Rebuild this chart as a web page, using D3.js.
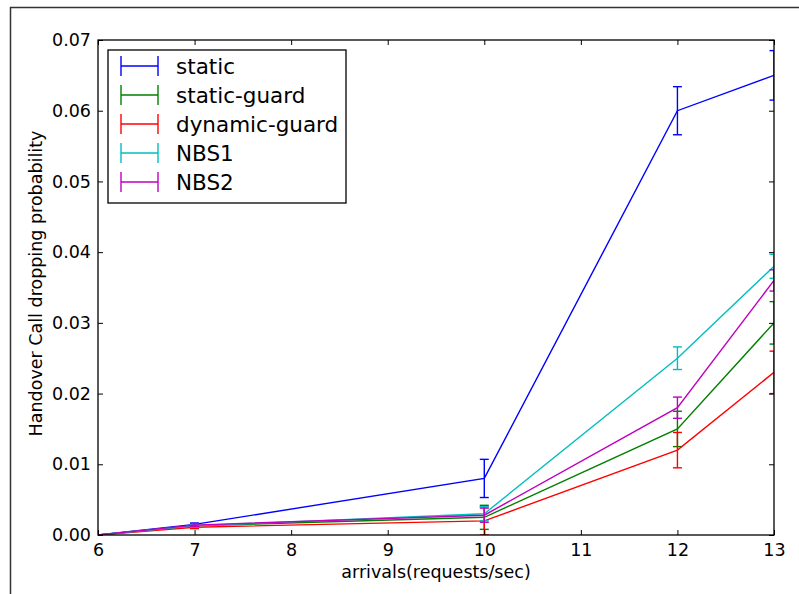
<!DOCTYPE html>
<html>
<head>
<meta charset="utf-8">
<script src="https://cdn.jsdelivr.net/npm/d3@7"></script>
<style>
  body { margin: 0; background: #fff; }
  svg { display: block; font-family: 'DejaVu Sans', sans-serif; }
</style>
</head>
<body>
<div id="chart"></div>
<script>
const arrivals = [6, 7, 10, 12, 13];
const xTicks = [6, 7, 8, 9, 10, 11, 12, 13];
const yTicks = [0, 0.01, 0.02, 0.03, 0.04, 0.05, 0.06, 0.07];

const seriesNames = ['static', 'static-guard', 'dynamic-guard', 'NBS1', 'NBS2'];
const seriesColors = ['#0000ff', '#008000', '#ff0000', '#00bfbf', '#bf00bf'];

const staticVals = [0, 0.0015, 0.008, 0.060, 0.065];
const staticErr = [0, 0.0002, 0.0027, 0.0034, 0.0035];
const staticGuardVals = [0, 0.0013, 0.0025, 0.015, 0.030];
const staticGuardErr = [0, 0.0002, 0.0017, 0.0025, 0.003];
const dynamicGuardVals = [0, 0.0011, 0.002, 0.012, 0.023];
const dynamicGuardErr = [0, 0.0002, 0.002, 0.0025, 0.003];
const nbs1Vals = [0, 0.0013, 0.003, 0.025, 0.038];
const nbs1Err = [0, 0.0002, 0.001, 0.0016, 0.0017];
const nbs2Vals = [0, 0.0014, 0.0028, 0.018, 0.036];
const nbs2Err = [0, 0.0002, 0.001, 0.0015, 0.0015];

const allVals = [staticVals, staticGuardVals, dynamicGuardVals, nbs1Vals, nbs2Vals];
const allErr = [staticErr, staticGuardErr, dynamicGuardErr, nbs1Err, nbs2Err];

const width = 799, height = 594;
const margin = {left: 98, top: 40, right: 25, bottom: 59};
const adjWidth = width - margin.left - margin.right;
const adjHeight = height - margin.top - margin.bottom;

const svg = d3.select('#chart').append('svg')
  .attr('width', width)
  .attr('height', height);

//Outer figure border (only top and left edges visible)
svg.append('path')
  .attr('d', 'M10.5,' + height + 'V7.5H' + width)
  .attr('fill', 'none')
  .attr('stroke', '#333')
  .attr('stroke-width', 1.5);

const g = svg.append('g')
  .attr('transform', 'translate(' + margin.left + ',' + margin.top + ')');

const x = d3.scaleLinear().domain([6, 13]).range([0, adjWidth]);
const y = d3.scaleLinear().domain([0, 0.07]).range([adjHeight, 0]);

g.append('clipPath').attr('id', 'clip')
  .append('rect').attr('width', adjWidth).attr('height', adjHeight);

//Build the series rows from the arrays
const series = seriesNames.map((name, i) => ({
  name: name,
  color: seriesColors[i],
  points: arrivals.map((a, j) => ({x: a, v: allVals[i][j], e: allErr[i][j]}))
}));

const line = d3.line()
  .x(d => x(d.x))
  .y(d => y(d.v));

const plot = g.append('g').attr('clip-path', 'url(#clip)');
const capW = 4.5;
const lw = 1.4;

series.forEach((s) => {
  const sg = plot.append('g');

  sg.append('path')
    .attr('d', line(s.points))
    .attr('fill', 'none')
    .attr('stroke', s.color)
    .attr('stroke-width', lw);

  //Error bars with caps
  const bars = sg.selectAll('.err')
    .data(s.points.filter(p => p.e > 0))
    .enter().append('g')
    .attr('stroke', s.color)
    .attr('stroke-width', lw);

  bars.append('line')
    .attr('x1', d => x(d.x)).attr('x2', d => x(d.x))
    .attr('y1', d => y(d.v - d.e)).attr('y2', d => y(d.v + d.e));
  bars.append('line')
    .attr('x1', d => x(d.x) - capW).attr('x2', d => x(d.x) + capW)
    .attr('y1', d => y(d.v + d.e)).attr('y2', d => y(d.v + d.e));
  bars.append('line')
    .attr('x1', d => x(d.x) - capW).attr('x2', d => x(d.x) + capW)
    .attr('y1', d => y(d.v - d.e)).attr('y2', d => y(d.v - d.e));
});

//Axes with inward ticks on all four sides
const tickLen = 5;
const xAxisB = g.append('g')
  .attr('transform', 'translate(0,' + adjHeight + ')')
  .call(d3.axisBottom(x).tickValues(xTicks).tickFormat(d3.format('d')).tickSizeInner(-tickLen).tickSizeOuter(0).tickPadding(9));
const xAxisT = g.append('g')
  .call(d3.axisTop(x).tickValues(xTicks).tickSizeInner(-tickLen).tickSizeOuter(0).tickFormat(''));
const yAxisL = g.append('g')
  .call(d3.axisLeft(y).tickValues(yTicks).tickFormat(d3.format('.2f')).tickSizeInner(-tickLen).tickSizeOuter(0).tickPadding(7));
const yAxisR = g.append('g')
  .attr('transform', 'translate(' + adjWidth + ',0)')
  .call(d3.axisRight(y).tickValues(yTicks).tickSizeInner(-tickLen).tickSizeOuter(0).tickFormat(''));

[xAxisB, xAxisT, yAxisL, yAxisR].forEach((a) => {
  a.select('.domain').remove();
  a.selectAll('.tick line').attr('stroke', '#000').attr('stroke-width', 1);
  a.selectAll('.tick text')
    .attr('fill', '#000')
    .style('font-size', '17.5px')
    .style('font-family', "'DejaVu Sans', sans-serif");
});

//Plot frame
g.append('rect')
  .attr('width', adjWidth)
  .attr('height', adjHeight)
  .attr('fill', 'none')
  .attr('stroke', '#000')
  .attr('stroke-width', 1.3);

//Axis labels
g.append('text')
  .attr('x', adjWidth / 2)
  .attr('y', adjHeight + 43)
  .attr('text-anchor', 'middle')
  .style('font-size', '17.5px')
  .text('arrivals(requests/sec)');

g.append('text')
  .attr('transform', 'translate(' + (-56) + ',' + (adjHeight / 2 - 4) + ') rotate(-90)')
  .attr('text-anchor', 'middle')
  .style('font-size', '17.5px')
  .text('Handover Call dropping probability');

//Legend
const legend = g.append('g')
  .attr('transform', 'translate(10,10)');

legend.append('rect')
  .attr('width', 238)
  .attr('height', 153)
  .attr('fill', '#fff')
  .attr('stroke', '#000')
  .attr('stroke-width', 1.3);

const rowH = 29;
const items = legend.selectAll('.item')
  .data(series)
  .enter().append('g')
  .attr('transform', (d, i) => 'translate(0,' + (16 + i * rowH) + ')');

items.append('line')
  .attr('x1', 13).attr('x2', 50).attr('y1', 0).attr('y2', 0)
  .attr('stroke', d => d.color).attr('stroke-width', lw);
items.append('line')
  .attr('x1', 13).attr('x2', 13).attr('y1', -10).attr('y2', 10)
  .attr('stroke', d => d.color).attr('stroke-width', lw);
items.append('line')
  .attr('x1', 50).attr('x2', 50).attr('y1', -10).attr('y2', 10)
  .attr('stroke', d => d.color).attr('stroke-width', lw);

items.append('text')
  .attr('x', 68)
  .attr('y', 0)
  .attr('dy', '0.36em')
  .style('font-size', '21.5px')
  .text(d => d.name);
</script>
</body>
</html>
